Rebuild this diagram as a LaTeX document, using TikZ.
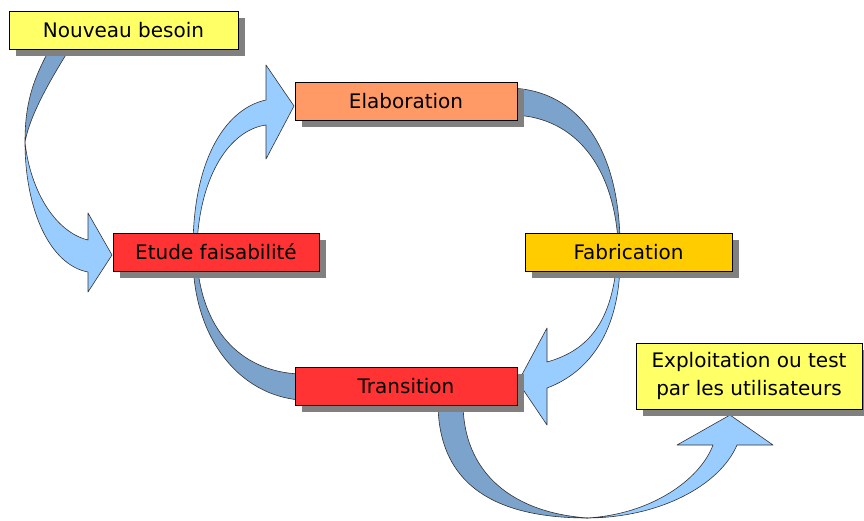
\documentclass[tikz,border=0pt]{standalone}
\usepackage{fontspec}
\setmainfont{DejaVu Sans}
\usetikzlibrary{shadows}
\definecolor{lb}{HTML}{99CCFF}
\definecolor{db}{HTML}{7BA3CC}
\definecolor{yel}{HTML}{FFFF66}
\definecolor{sal}{HTML}{FF9966}
\definecolor{rd}{HTML}{FF3333}
\definecolor{gold}{HTML}{FFCC00}
\definecolor{shd}{HTML}{808080}
\definecolor{edgec}{HTML}{333333}
\begin{document}
\begin{tikzpicture}[x=1pt,y=-1pt,
  box/.style={draw=black, line width=0.9pt, minimum height=38pt, inner sep=0pt,
    font=\fontsize{20}{28}\selectfont, align=center,
    drop shadow={shadow xshift=7pt, shadow yshift=-7pt, fill=shd, opacity=1}},
  front/.style={fill=lb, draw=edgec, line width=0.6pt, line join=round},
  back/.style={fill=db, draw=edgec, line width=0.6pt, line join=round}]
\useasboundingbox[fill=white] (0,0) rectangle (864,520);

% Arrow A : Nouveau besoin -> Etude faisabilite
\path[back] (52,45) .. controls (32,80) and (25,105) .. (25,142)
  .. controls (30,115) and (50,80) .. (72,45) -- cycle;
\path[front] (25,142) .. controls (30,190) and (55,232) .. (88,240)
  -- (88,213) -- (112,255) -- (88,292) -- (88,272)
  .. controls (50,265) and (25,210) .. (25,142) -- cycle;

% Arrow B : Transition -> Elaboration (behind Etude)
\path[back] (193,262) .. controls (195,340) and (240,395) .. (300,400)
  -- (300,374) .. controls (245,372) and (203,335) .. (197,262) -- cycle;
\path[front] (193,245) .. controls (194,155) and (228,108) .. (266,100)
  -- (266,65) -- (294,106) -- (266,159) -- (266,125)
  .. controls (230,130) and (200,175) .. (197,245) -- cycle;

% Arrow C : Elaboration -> Transition (behind Fabrication)
\path[back] (510,88) .. controls (580,90) and (618,150) .. (620,240)
  -- (618,240) .. controls (612,160) and (570,115) .. (510,115) -- cycle;
\path[front] (620,260) .. controls (620,330) and (590,372) .. (547,388)
  -- (547,425) -- (518,382) -- (547,328) -- (547,362)
  .. controls (590,350) and (612,320) .. (617,260) -- cycle;

% Arrow D : Transition -> Exploitation
\path[back] (438,400) .. controls (437,485) and (495,518) .. (588,518)
  .. controls (515,513) and (462,475) .. (463,400) -- cycle;
\path[front] (586,518) .. controls (660,518) and (720,485) .. (737,445)
  -- (773,445) -- (730,415) -- (677,445) -- (713,445)
  .. controls (700,480) and (650,515) .. (586,518) -- cycle;

% Boxes
\node[box, fill=yel, minimum width=229pt] (nb) at (123.5,30) {Nouveau besoin};
\node[box, fill=sal, minimum width=222pt] (el) at (406,101) {Elaboration};
\node[box, fill=rd, minimum width=206pt] (ef) at (216,252) {Etude faisabilité};
\node[box, fill=gold, minimum width=207pt] (fa) at (628.5,252) {Fabrication};
\node[box, fill=rd, minimum width=222pt] (tr) at (406,386) {Transition};
\node[box, fill=yel, minimum width=226pt, minimum height=66pt] (ex) at (749,376)
  {Exploitation ou test\\par les utilisateurs};
\end{tikzpicture}
\end{document}
